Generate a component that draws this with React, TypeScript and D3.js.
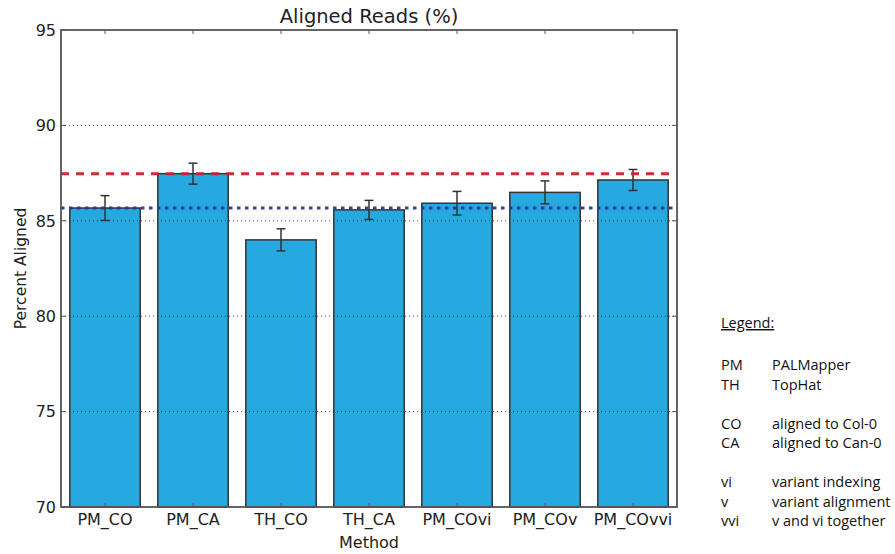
import React from "react";
import * as d3 from "d3";

const categories = ["PM_CO", "PM_CA", "TH_CO", "TH_CA", "PM_COvi", "PM_COv", "PM_COvvi"];
const values = [85.67, 87.47, 84.0, 85.57, 85.92, 86.49, 87.14];
const errors = [0.65, 0.55, 0.58, 0.5, 0.62, 0.6, 0.55];
const yTicks = [70, 75, 80, 85, 90, 95];
const gridTicks = [75, 80, 85, 90];
const redLineValue = 87.47;
const blueLineValue = 85.67;
const legendKeys = ["PM", "TH", "", "CO", "CA", "", "vi", "v", "vvi"];
const legendDescs = ["PALMapper", "TopHat", "", "aligned to Col-0", "aligned to Can-0", "", "variant indexing", "variant alignment", "v and vi together"];

const W = 895, H = 554;
const L = 61, R = 677, T = 30, B = 507;
const FONT = "DejaVu Sans";
const LFONT = "Open Sans";

export default function App() {
  const x = d3.scaleBand<string>().domain(categories).range([L, R]).paddingInner(0.2).paddingOuter(0.1);
  const y = d3.scaleLinear().domain([70, 95]).range([B, T]);
  const bw = x.bandwidth();
  const spine = "#555";
  return (
    <svg width={W} height={H} style={{ position: "absolute", left: 0, top: 0, background: "#fff" }}>
      {/* bars */}
      {categories.map((c, i) => (
        <rect key={c} x={x(c)!} y={y(values[i])} width={bw} height={y(70) - y(values[i])}
          fill="#26a8e0" stroke="#333" strokeWidth={1.5} />
      ))}
      {/* grid */}
      {gridTicks.map((t) => (
        <line key={t} x1={L} x2={R} y1={y(t)} y2={y(t)} stroke="#222" strokeWidth={1} strokeDasharray="1,3" opacity={0.8} />
      ))}
      {/* error bars */}
      {categories.map((c, i) => {
        const cx = x(c)! + bw / 2;
        const y1 = y(values[i] + errors[i]);
        const y2 = y(values[i] - errors[i]);
        return (
          <g key={c} stroke="#333" strokeWidth={1.5}>
            <line x1={cx} x2={cx} y1={y1} y2={y2} />
            <line x1={cx - 4.5} x2={cx + 4.5} y1={y1} y2={y1} />
            <line x1={cx - 4.5} x2={cx + 4.5} y1={y2} y2={y2} />
          </g>
        );
      })}
      {/* reference lines */}
      <line x1={L} x2={R} y1={y(redLineValue)} y2={y(redLineValue)} stroke="#d0202e" strokeWidth={3} strokeDasharray="8,7" opacity={0.95} />
      <line x1={L} x2={R} y1={y(blueLineValue)} y2={y(blueLineValue)} stroke="#2a3592" strokeWidth={3} strokeDasharray="3.5,4.5" opacity={0.95} />
      {/* ticks */}
      {categories.map((c) => {
        const cx = x(c)! + bw / 2;
        return (
          <g key={c} stroke={spine} strokeWidth={1}>
            <line x1={cx} x2={cx} y1={T} y2={T + 4} />
            <line x1={cx} x2={cx} y1={B} y2={B - 4} />
          </g>
        );
      })}
      {yTicks.map((t) => (
        <g key={t} stroke={spine} strokeWidth={1}>
          <line x1={L} x2={L + 5} y1={y(t)} y2={y(t)} />
          <line x1={R} x2={R - 5} y1={y(t)} y2={y(t)} />
        </g>
      ))}
      {/* frame */}
      <rect x={L} y={T} width={R - L} height={B - T} fill="none" stroke={spine} strokeWidth={1.8} />
      {/* y tick labels */}
      {yTicks.map((t) => (
        <text key={t} x={L - 5} y={y(t)} dy="0.36em" textAnchor="end" fontFamily={FONT} fontSize={16} fill="#222">{t}</text>
      ))}
      {/* x tick labels */}
      {categories.map((c) => (
        <text key={c} x={x(c)! + bw / 2} y={525} textAnchor="middle" fontFamily={FONT} fontSize={16} fill="#222">{c}</text>
      ))}
      {/* titles */}
      <text x={(L + R) / 2} y={23} textAnchor="middle" fontFamily={FONT} fontSize={19.5} fill="#222">Aligned Reads (%)</text>
      <text x={(L + R) / 2} y={548} textAnchor="middle" fontFamily={FONT} fontSize={16} fill="#222">Method</text>
      <text transform={`translate(26,${(T + B) / 2}) rotate(-90)`} textAnchor="middle" fontFamily={FONT} fontSize={15.5} fill="#222">Percent Aligned</text>
      {/* legend */}
      <text x={721} y={328} fontFamily={LFONT} fontSize={14.5} fill="#111" textDecoration="underline">Legend:</text>
      {legendKeys.map((k, i) => k ? (
        <g key={i} fontFamily={LFONT} fontSize={14.5} fill="#111">
          <text x={721} y={370 + i * 19.5}>{k}</text>
          <text x={772} y={370 + i * 19.5}>{legendDescs[i]}</text>
        </g>
      ) : null)}
    </svg>
  );
}
